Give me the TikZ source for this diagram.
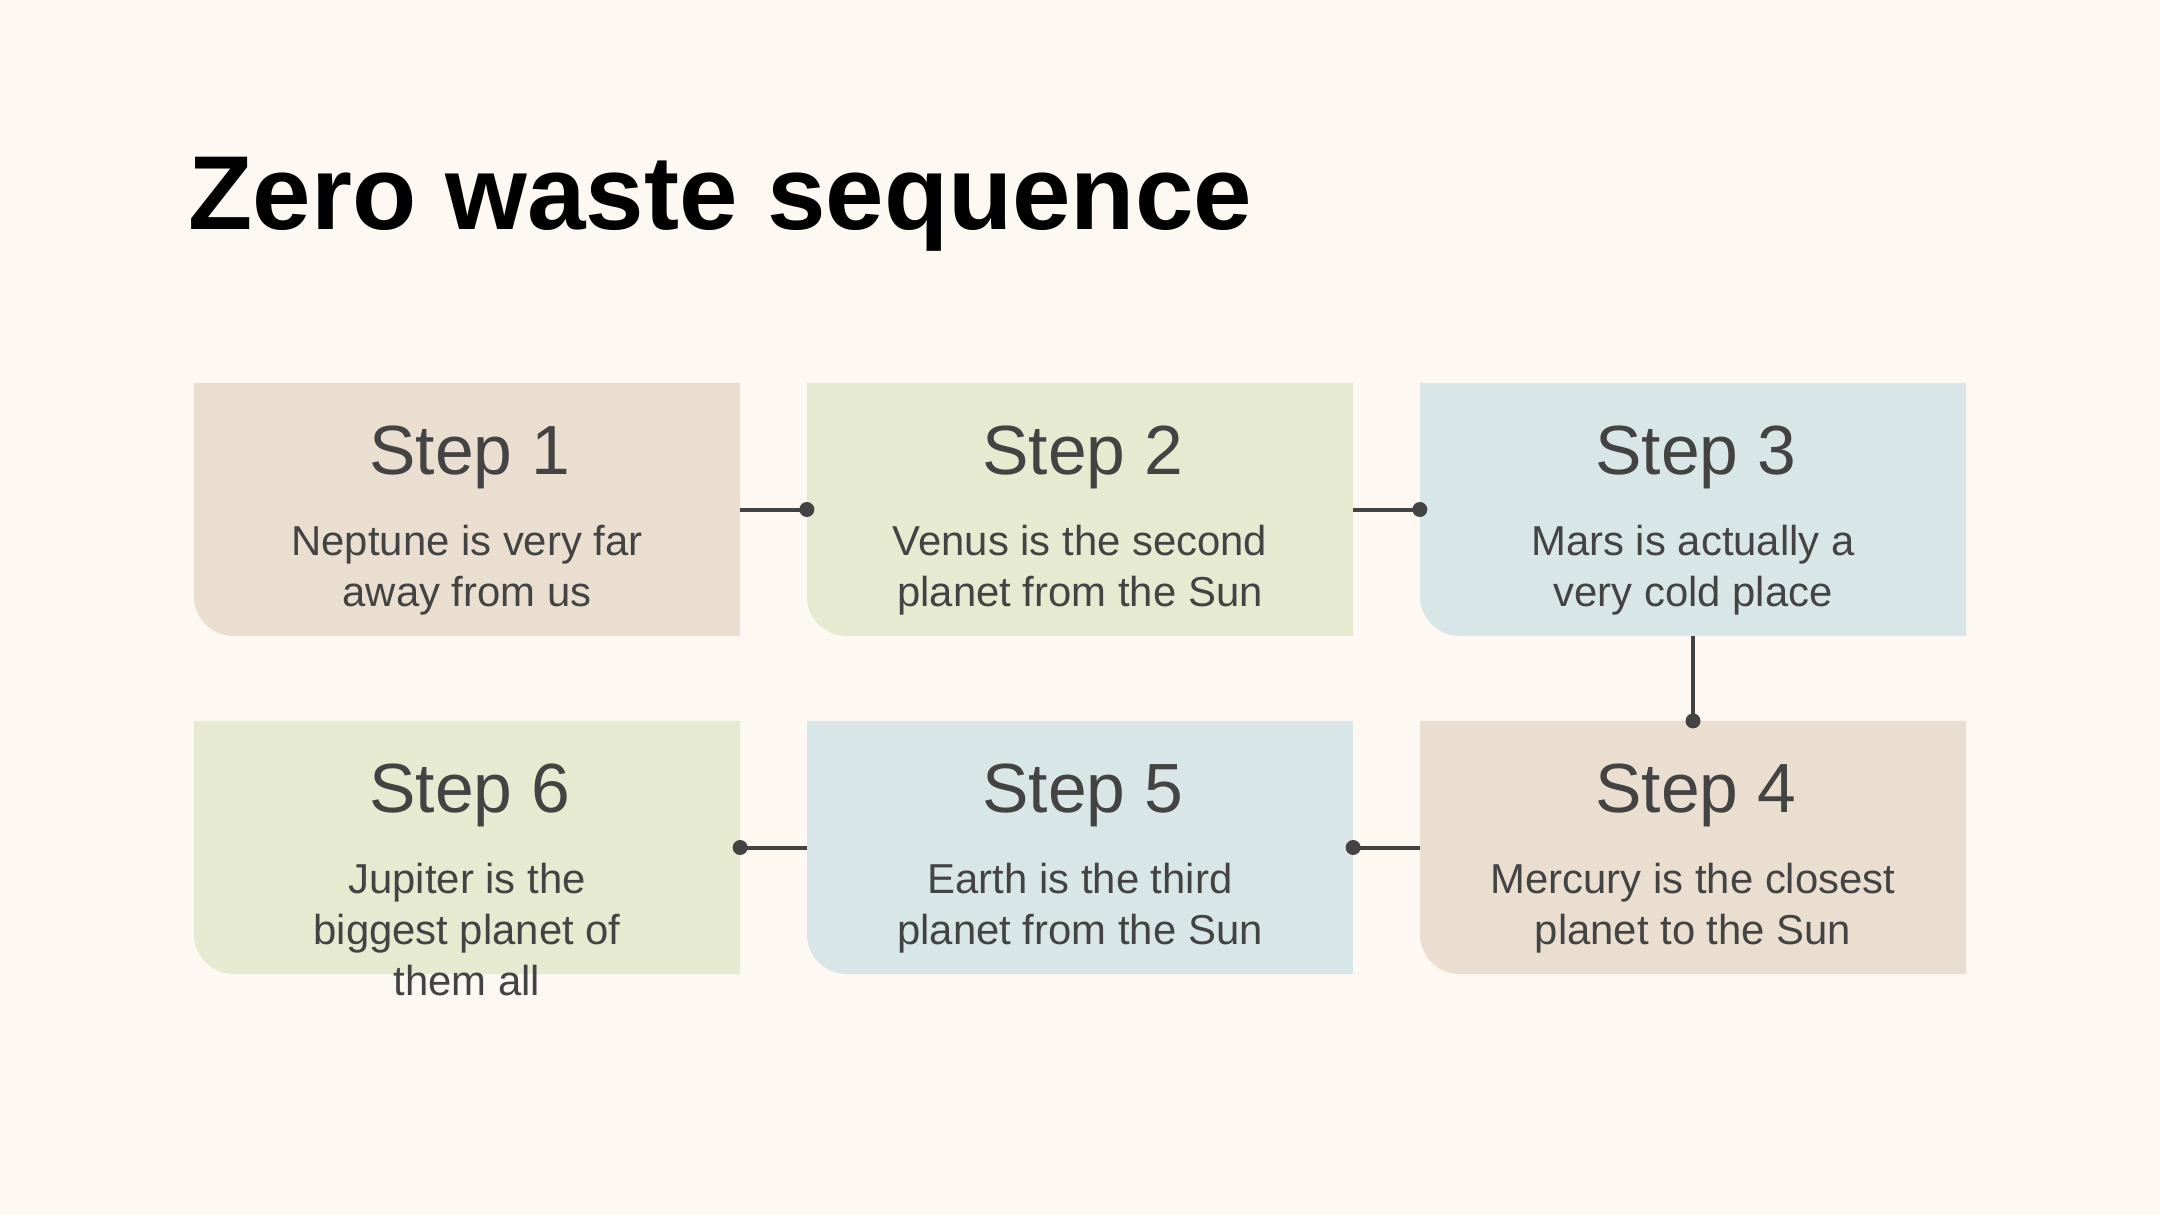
\documentclass[tikz,border=0pt]{standalone}
\usepackage{fontspec}
\setmainfont{Liberation Sans}
\definecolor{bgc}{RGB}{254,248,242}
\definecolor{beige}{RGB}{234,222,208}
\definecolor{sage}{RGB}{230,234,208}
\definecolor{mist}{RGB}{217,230,231}
\definecolor{ink}{RGB}{67,67,67}
\tikzset{
  boxframe/.style={rectangle, minimum width=5.46cm, minimum height=2.53cm, inner sep=0pt, outer sep=0pt},
  heading/.style={anchor=base, text=ink, font=\fontsize{19.8}{24}\selectfont, inner sep=0pt},
  bodytext/.style={anchor=base, text=ink, font=\fontsize{11.9}{14.5}\selectfont, inner sep=0pt},
  conn/.style={draw=ink, line width=0.04cm},
  dot/.style={fill=ink},
}
\newcommand\mkstep[6]{%
  \node[boxframe] (#1) at (#2,#3) {};
  \fill[#4] (#1.north west) -- (#1.north east) -- (#1.south east) -- ([xshift=0.4cm]#1.south west) arc[start angle=270, end angle=180, radius=0.4cm] -- cycle;
  \node[heading] (#1h) at ([xshift=0.03cm, yshift=-0.92cm]#1.north) {#5};
  \foreach \ln [count=\i] in {#6}
    \node[bodytext] (#1b\i) at ([yshift=-1.72cm-(\i-1)*0.51cm]#1.north) {\ln};
}
\begin{document}
\begin{tikzpicture}[x=0.01cm, y=-0.01cm]
\fill[bgc] (0,0) rectangle (2160,1215);
\useasboundingbox (0,0) rectangle (2160,1215);
\node[anchor=base west, inner sep=0pt, font=\fontsize{29.9}{34}\selectfont\bfseries] (title) at (188,229) {Zero waste sequence};
\mkstep{s1}{467}{509.5}{beige}{Step 1}{Neptune is very far,away from us}
\mkstep{s2}{1080}{509.5}{sage}{Step 2}{Venus is the second,planet from the Sun}
\mkstep{s3}{1693}{509.5}{mist}{Step 3}{Mars is actually a,very cold place}
\mkstep{s4}{1693}{847.5}{beige}{Step 4}{Mercury is the closest,planet to the Sun}
\mkstep{s5}{1080}{847.5}{mist}{Step 5}{Earth is the third,planet from the Sun}
\mkstep{s6}{467}{847.5}{sage}{Step 6}{Jupiter is the,biggest planet of,them all}
\draw[conn] (s1.east) -- (s2.west);
\fill[dot] (s2.west) circle[radius=0.075cm];
\draw[conn] (s2.east) -- (s3.west);
\fill[dot] (s3.west) circle[radius=0.075cm];
\draw[conn] (s3.south) -- (s4.north);
\fill[dot] (s4.north) circle[radius=0.075cm];
\draw[conn] (s4.west) -- (s5.east);
\fill[dot] (s5.east) circle[radius=0.075cm];
\draw[conn] (s5.west) -- (s6.east);
\fill[dot] (s6.east) circle[radius=0.075cm];
\end{tikzpicture}
\end{document}
